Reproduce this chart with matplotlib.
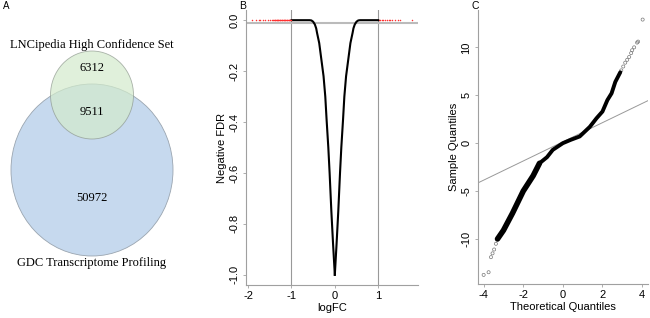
import numpy as np
import matplotlib.pyplot as plt
from matplotlib.patches import Ellipse

# ---- data -------------------------------------------------------------
venn_labels = ["LNCipedia High Confidence Set", "GDC Transcriptome Profiling"]
venn_counts = [6312, 9511, 50972]   # LNCipedia only, both, GDC only

# volcano-like curve (logFC vs negative FDR)
fc_left = [-1.0, -0.7, -0.58, -0.54, -0.5, -0.46, -0.43, -0.41, -0.36, -0.31,
           -0.26, -0.22, -0.19, -0.15, -0.12, -0.08, -0.04, 0.0]
fdr_left = [0.0, 0.0, 0.0, -0.001, -0.006, -0.017, -0.032, -0.05, -0.09, -0.155,
            -0.22, -0.30, -0.39, -0.5, -0.6, -0.75, -0.88, -1.0]
fc_right = [0.0, 0.04, 0.08, 0.12, 0.15, 0.19, 0.22, 0.26, 0.31, 0.36, 0.41,
            0.43, 0.46, 0.5, 0.54, 0.58, 0.7, 1.0]
fdr_right = [-1.0, -0.88, -0.75, -0.6, -0.5, -0.39, -0.30, -0.22, -0.155, -0.09,
             -0.05, -0.032, -0.017, -0.006, -0.001, 0.0, 0.0, 0.0]
fc_signif = [-1.9, -1.82, -1.76, -1.72, -1.65, -1.6, -1.55, -1.5, -1.45, -1.42,
             -1.38, -1.34, -1.3, -1.26, -1.22, -1.18, -1.14, -1.1, -1.06, -1.02,
             1.02, 1.05, 1.08, 1.12, 1.15, 1.2, 1.24, 1.28, 1.33, 1.38, 1.45, 1.5,
             1.77]
fdr_cut = -0.01

# QQ plot
qq_theo = [-3.3, -3.0, -2.54, -2.0, -1.5, -1.18, -0.8, -0.51, 0.0, 0.4, 0.85,
           1.36, 1.7, 2.0, 2.25, 2.46, 2.65, 2.8, 2.9]
qq_samp = [-10.0, -9.1, -7.3, -5.0, -3.4, -2.1, -1.46, -0.7, 0.0, 0.35, 0.7,
           1.7, 2.6, 3.3, 4.5, 5.2, 6.4, 7.0, 7.4]
tail_theo = [-4.0, -3.75, -3.63, -3.55, -3.47, -3.38, 2.95, 3.05, 3.15, 3.25,
             3.35, 3.45, 3.5, 3.6, 3.75, 3.8, 4.03]
tail_samp = [-13.75, -13.47, -11.9, -11.5, -11.1, -10.5, 7.6, 8.0, 8.4, 8.7,
             9.0, 9.4, 9.7, 10.0, 10.5, 10.6, 12.9]
qq_intercept, qq_slope = 0.14, 1.0

plt.rcParams['font.family'] = ['Liberation Sans', 'DejaVu Sans']
fig = plt.figure(figsize=(6.5, 3.18), dpi=100)

#--- Panel A: Venn ------------------------------------------------------
axA = fig.add_axes([0, 0, 210/650, 1])
axA.set_xlim(0, 210)
axA.set_ylim(318, 0)
axA.axis('off')
axA.add_patch(Ellipse((92, 170), 162, 172, facecolor='#c6d9ee', edgecolor='#9aa5b0', lw=0.6))
axA.add_patch(Ellipse((92, 95), 83, 88, facecolor='#d3ebcc', alpha=0.7, edgecolor='#8a948a', lw=0.6))
serif = ['Liberation Serif', 'DejaVu Serif']
axA.text(92, 45, venn_labels[0], ha='center', va='center', fontsize=9, family=serif)
axA.text(92, 263, venn_labels[1], ha='center', va='center', fontsize=9, family=serif)
axA.text(92, 68, str(venn_counts[0]), ha='center', va='center', fontsize=9, family=serif)
axA.text(92, 112, str(venn_counts[1]), ha='center', va='center', fontsize=9, family=serif)
axA.text(92, 198, str(venn_counts[2]), ha='center', va='center', fontsize=9, family=serif)
axA.text(3, 6, 'A', ha='left', va='center', fontsize=7)

def r_style(ax):
    for s in ['top', 'right']:
        ax.spines[s].set_visible(False)
    for s in ['left', 'bottom']:
        ax.spines[s].set_color('#a0a0a0')
        ax.spines[s].set_linewidth(0.8)
    ax.tick_params(length=2.5, width=0.6, color='#a0a0a0', labelsize=8, pad=2)
    for lab in ax.get_yticklabels():
        lab.set_rotation(90)
        lab.set_va('center')

#--- Panel B ------------------------------------------------------------
axB = fig.add_axes([246/650, 1-285/318, 172/650, 275/318])
axB.axvline(-1, color='#999999', lw=0.8)
axB.axvline(1, color='#999999', lw=0.8)
axB.axhline(fdr_cut, color='#bbbbbb', lw=1.5)
axB.plot(fc_left, fdr_left, color='black', lw=1.5)
axB.plot(fc_right, fdr_right, color='black', lw=1.5)
axB.scatter(fc_signif, np.zeros(len(fc_signif)), s=1.2, color='#ff3030', lw=0)
axB.plot([-1.4, -1.0], [0, 0], color='#ff3030', lw=1.0)
axB.set_xlim(-2.05, 1.92)
axB.set_ylim(-1.04, 0.04)
axB.set_xticks([-2, -1, 0, 1])
axB.set_xticklabels(['-2', '-1', '0', '1'])
axB.set_yticks([0, -0.2, -0.4, -0.6, -0.8, -1.0])
axB.set_yticklabels(['0.0', '-0.2', '-0.4', '-0.6', '-0.8', '-1.0'])
axB.set_xlabel('logFC', fontsize=8, labelpad=1)
axB.set_ylabel('Negative FDR', fontsize=8, labelpad=2)
r_style(axB)
fig.text(243/650, 1-6/318, 'B', ha='center', va='center', fontsize=7.5)

#--- Panel C ------------------------------------------------------------
axC = fig.add_axes([477.7/650, 1-284/318, 170.3/650, 274/318])
xl = np.array([-4.3, 4.3])
axC.plot(xl, qq_intercept + qq_slope*xl, color='#999999', lw=0.7)
axC.plot(qq_theo[:6], qq_samp[:6], color='black', lw=4, solid_capstyle='round')
axC.plot(qq_theo[5:], qq_samp[5:], color='black', lw=2.8, solid_capstyle='round')
axC.scatter(tail_theo, tail_samp, s=5, facecolors='none', edgecolors='#777777', lw=0.5)
axC.set_xlim(-4.3, 4.3)
axC.set_ylim(-14.7, 13.9)
axC.set_xticks([-4, -2, 0, 2, 4])
axC.set_xticklabels(['-4', '-2', '0', '2', '4'])
axC.set_yticks([-10, -5, 0, 5, 10])
axC.set_yticklabels(['-10', '-5', '0', '5', '10'])
axC.set_xlabel('Theoretical Quantiles', fontsize=8, labelpad=1)
axC.set_ylabel('Sample Quantiles', fontsize=8, labelpad=2)
r_style(axC)
fig.text(475/650, 1-6/318, 'C', ha='center', va='center', fontsize=7.5)

plt.savefig('out.png', dpi=100)
